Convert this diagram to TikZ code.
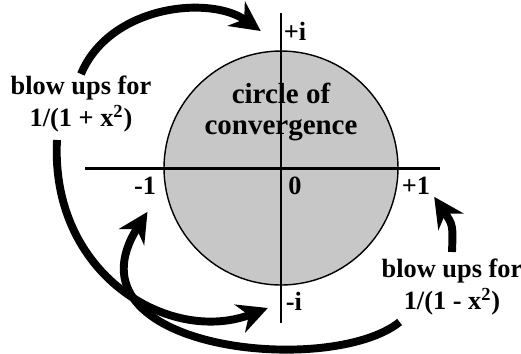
\documentclass[tikz,border=0pt]{standalone}
\usepackage{fontspec}
\setmainfont{Liberation Serif}
\usetikzlibrary{arrows.meta}

\begin{document}
\begin{tikzpicture}[x=.02cm, y=-.02cm,
    lbl/.style={font=\bfseries\fontsize{15}{18}\selectfont, inner sep=1pt},
    blurb/.style={lbl, align=center},
    axis/.style={line width=1.7pt},
    blow/.style={-{Stealth[length=17pt, width=17pt, inset=5.5pt]},
        line width=4.5pt},
]
    \useasboundingbox (0,0) rectangle (521,353);

    %% the disk and the two axes through it
    \node[circle, draw, line width=.8pt, fill=black!22, inner sep=0,
        minimum size=4.68cm] (disk) at (281,168) {};
    \draw[axis] (85,168) -- (440,168);
    \draw[axis] (281,13) -- (281,323);
    \node[blurb, font=\bfseries\fontsize{16.5}{18}\selectfont] (disktext)
        at (281,112) {circle of\\convergence};

    %% the points on the axes
    \node[lbl] (plusi) at (295,31) {+i};
    \node[lbl] (minusi) at (294,301) {-i};
    \node[lbl] (zero) at (295,186) {0};
    \node[lbl] (plusone) at (416,186) {+1};
    \node[lbl] (minusone) at (145,186) {-1};

    %% where each function blows up
    \node[blurb] (leftblow) at (81,104)
        {blow ups for\\1/(1 + x\textsuperscript{2})};
    \node[blurb] (rightblow) at (452,287)
        {blow ups for\\1/(1 - x\textsuperscript{2})};
    \draw[blow] (leftblow.north) .. controls (110,5) and (210,-5)
        .. ([xshift=-.42cm]plusi.west);
    \draw[blow] ([xshift=-.48cm, yshift=-.12cm]leftblow.south)
        .. controls (50,275) and (170,345)
        .. ([xshift=-.32cm, yshift=-.14cm]minusi.west);
    \draw[blow] ([xshift=.4cm, yshift=-.1cm]rightblow.south west)
        .. controls (330,378) and (60,350)
        .. ([xshift=.05cm, yshift=-.3cm]minusone.south);
    \draw[blow] ([yshift=.1cm]rightblow.north) .. controls (453,225)
        .. ([xshift=.04cm]plusone.south east);
\end{tikzpicture}
\end{document}
